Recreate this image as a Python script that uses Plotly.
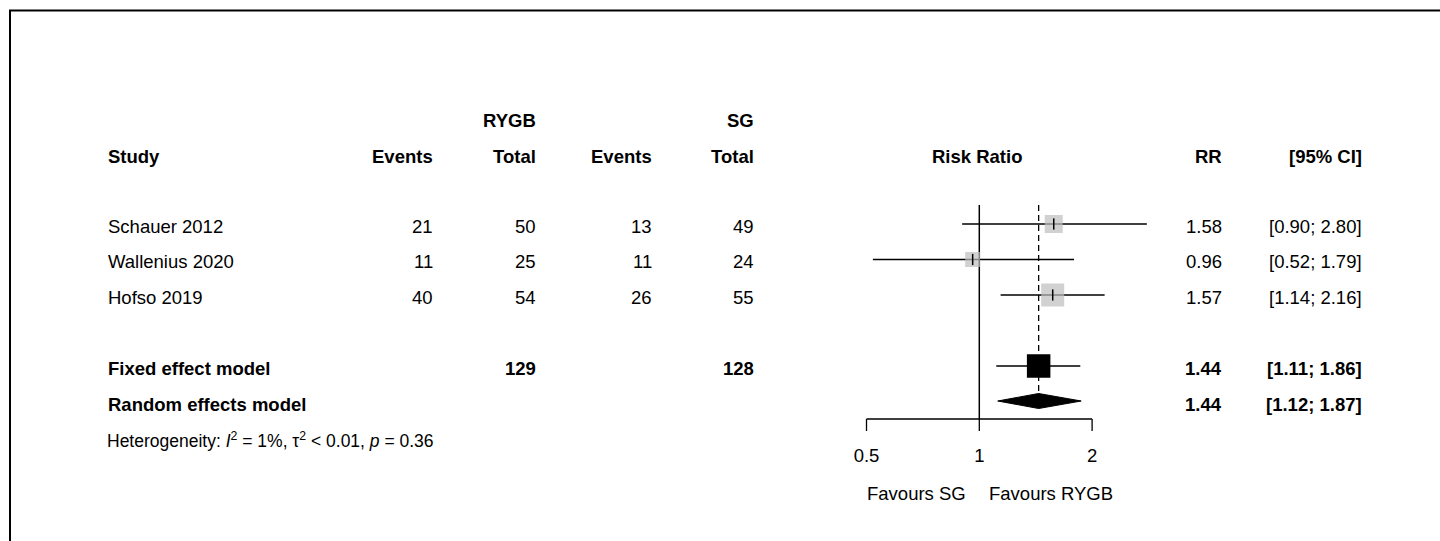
import math
import plotly.graph_objects as go

# ---- data -------------------------------------------------------------
studies = ["Schauer 2012", "Wallenius 2020", "Hofso 2019"]
events_rygb = [21, 11, 40]
total_rygb = [50, 25, 54]
events_sg = [13, 11, 26]
total_sg = [49, 24, 55]
rr = [1.58, 0.96, 1.57]
ci_low = [0.90, 0.52, 1.14]
ci_high = [2.80, 1.79, 2.16]

fixed_rr, fixed_low, fixed_high = 1.44, 1.11, 1.86
random_rr, random_low, random_high = 1.44, 1.12, 1.87
pooled_total_rygb = 129
pooled_total_sg = 128

axis_ticks = [0.5, 1, 2]
axis_tick_labels = ["0.5", "1", "2"]
i2_text = "1%"
tau2_text = "&lt; 0.01"
p_text = "0.36"

# ---- layout (pixels) --------------------------------------------------
W, H = 1440, 541
FONT = "Liberation Sans, Arial, sans-serif"
FS = 18.5
box_px = [18, 15, 23]          # study box sides
fixed_box_px = 23.5
diamond_half_h = 7.5

y_head1, y_head2 = 120, 156
y_rows = [224, 259.5, 295]
y_fixed, y_random = 366, 401
y_het = 440
y_top, y_axis, y_tick_end = 205, 419, 431
y_ticklab, y_favours = 457, 493

# log x-axis: value 1 at x=979.3 px, 112.8 px per doubling
px_per_decade = 112.8 / math.log10(2)
r0 = -979.3 / px_per_decade
r1 = r0 + W / px_per_decade

fig = go.Figure()


def line(xs, ys, width=1.3, dash="solid", color="black"):
    fig.add_trace(go.Scatter(x=xs, y=ys, mode="lines", hoverinfo="skip",
                             line=dict(color=color, width=width, dash=dash)))


# no-effect line and pooled estimate line
line([1, 1], [y_top, y_axis], width=1.5)
line([fixed_rr, fixed_rr], [y_top, y_random - diamond_half_h], width=1.3, dash="6px,4px")

# study confidence intervals
ci_x, ci_y = [], []
for lo, hi, y in zip(ci_low, ci_high, y_rows):
    ci_x += [lo, hi, None]
    ci_y += [y, y, None]
line(ci_x, ci_y)

# study boxes and point estimate ticks
fig.add_trace(go.Scatter(x=rr, y=y_rows, mode="markers", hoverinfo="skip",
                         marker=dict(symbol="square", size=box_px, color="#bebebe",
                                     line=dict(width=0))))
fig.add_trace(go.Scatter(x=rr, y=y_rows, mode="markers", hoverinfo="skip",
                         marker=dict(symbol="line-ns", size=8,
                                     line=dict(width=1.5, color="black"))))

# fixed effect model
line([fixed_low, fixed_high], [y_fixed, y_fixed])
fig.add_trace(go.Scatter(x=[fixed_rr], y=[y_fixed], mode="markers", hoverinfo="skip",
                         marker=dict(symbol="square", size=fixed_box_px, color="black",
                                     line=dict(width=0))))

# random effects diamond
fig.add_trace(go.Scatter(
    x=[random_low, random_rr, random_high, random_rr, random_low],
    y=[y_random, y_random - diamond_half_h, y_random, y_random + diamond_half_h, y_random],
    mode="lines", fill="toself", fillcolor="black", hoverinfo="skip",
    line=dict(color="black", width=1)))

# x axis
line([axis_ticks[0], axis_ticks[-1]], [y_axis, y_axis], width=1.3)
tk_x, tk_y = [], []
for t in axis_ticks:
    tk_x += [t, t, None]
    tk_y += [y_axis, y_tick_end, None]
line(tk_x, tk_y)
fig.add_trace(go.Scatter(x=axis_ticks, y=[y_ticklab] * len(axis_ticks), mode="text",
                         text=axis_tick_labels, textposition="middle center",
                         hoverinfo="skip",
                         textfont=dict(family=FONT, size=FS, color="black")))

# ---- text columns -----------------------------------------------------
annots = []


def text(px, y, s, anchor="left", bold=False, size=FS):
    if bold:
        s = "<b>" + s + "</b>"
    # compensate the small annotation padding so glyph edges land on px
    if anchor == "left":
        px -= 2
    elif anchor == "right":
        px += 2
    annots.append(dict(x=px / W, y=y, xref="paper", yref="y", text=s,
                       xanchor=anchor, yanchor="middle", showarrow=False,
                       font=dict(family=FONT, size=size, color="black")))


x_study, x_e1, x_n1, x_e2, x_n2 = 108, 433, 536, 652, 754
x_rr, x_ci, x_mid = 1222, 1362, 977

text(x_n1, y_head1, "RYGB", "right", True)
text(x_n2, y_head1, "SG", "right", True)
text(x_study, y_head2, "Study", "left", True)
text(x_e1, y_head2, "Events", "right", True)
text(x_n1, y_head2, "Total", "right", True)
text(x_e2, y_head2, "Events", "right", True)
text(x_n2, y_head2, "Total", "right", True)
text(x_mid, y_head2, "Risk Ratio", "center", True)
text(x_rr, y_head2, "RR", "right", True)
text(x_ci, y_head2, "[95% CI]", "right", True)

for i, y in enumerate(y_rows):
    yt = y + 2
    text(x_study, yt, studies[i])
    text(x_e1, yt, str(events_rygb[i]), "right")
    text(x_n1, yt, str(total_rygb[i]), "right")
    text(x_e2, yt, str(events_sg[i]), "right")
    text(x_n2, yt, str(total_sg[i]), "right")
    text(x_rr, yt, f"{rr[i]:.2f}", "right")
    text(x_ci, yt, f"[{ci_low[i]:.2f}; {ci_high[i]:.2f}]", "right")

text(x_study, y_fixed + 2, "Fixed effect model", "left", True)
text(x_n1, y_fixed + 2, str(pooled_total_rygb), "right", True)
text(x_n2, y_fixed + 2, str(pooled_total_sg), "right", True)
text(x_rr, y_fixed + 2, f"{fixed_rr:.2f}", "right", True)
text(x_ci, y_fixed + 2, f"[{fixed_low:.2f}; {fixed_high:.2f}]", "right", True)

text(x_study, y_random + 3, "Random effects model", "left", True)
text(x_rr, y_random + 3, f"{random_rr:.2f}", "right", True)
text(x_ci, y_random + 3, f"[{random_low:.2f}; {random_high:.2f}]", "right", True)

text(x_study - 1, y_het,
     f"Heterogeneity: <i>I</i><sup>2</sup> = {i2_text}, τ<sup>2</sup> {tau2_text}, "
     f"<i>p</i> = {p_text}", "left", size=17.5)

text(966, y_favours, "Favours SG", "right", size=18.5)
text(989, y_favours, "Favours RYGB", "left", size=18.5)

# frame around the panel (top and left edges)
shapes = [
    dict(type="line", xref="paper", yref="paper", x0=9 / W, x1=1, y0=1 - 10.5 / H,
         y1=1 - 10.5 / H, line=dict(color="black", width=2)),
    dict(type="line", xref="paper", yref="paper", x0=10 / W, x1=10 / W, y0=0,
         y1=1 - 10 / H, line=dict(color="black", width=2)),
]

fig.update_layout(
    width=W, height=H, autosize=False,
    margin=dict(l=0, r=0, t=0, b=0),
    paper_bgcolor="white", plot_bgcolor="white",
    showlegend=False,
    xaxis=dict(type="log", range=[r0, r1], visible=False, domain=[0, 1], fixedrange=True),
    yaxis=dict(range=[H, 0], visible=False, domain=[0, 1], fixedrange=True),
    annotations=annots,
    shapes=shapes,
)

fig.write_html("out.html")
